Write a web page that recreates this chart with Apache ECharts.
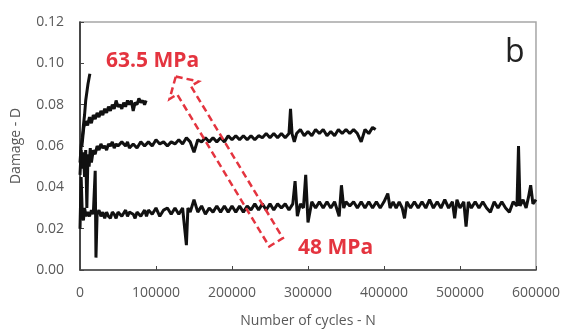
<!DOCTYPE html>
<html>
<head>
<meta charset="utf-8">
<script src="https://cdn.jsdelivr.net/npm/echarts@6/dist/echarts.min.js"></script>
<style>
html,body{margin:0;padding:0;background:#fff;}
#chart{width:563px;height:333px;}
</style>
</head>
<body>
<div id="chart"></div>
<script>
// ---- Data (Number of cycles N, Damage D) ----
const series635 = [[0,0.052],[1500,0.060],[3000,0.064],[4500,0.070],[6000,0.075],[7500,0.082],[9000,0.086],[10500,0.090],[12000,0.093],[13000,0.095]];

const seriesB = [[2500,0.060],[5000,0.069],[7500,0.072],[10000,0.070],[12500,0.074],[15000,0.071],[17500,0.075],[20000,0.073],[22500,0.076],[25000,0.074],[27500,0.077],[30000,0.075],[32500,0.078],[35000,0.076],[37500,0.079],[40000,0.077],[42500,0.080],[45000,0.078],[47500,0.082],[50000,0.079],[52500,0.080],[55000,0.078],[57500,0.081],[60000,0.079],[62500,0.082],[65000,0.080],[67500,0.082],[70000,0.077],[72500,0.081],[75000,0.080],[77500,0.083],[80000,0.081],[82500,0.082],[85000,0.080],[87000,0.082]];

const seriesC = [[0,0.046],[1500,0.058],[3000,0.049],[4500,0.057],[6000,0.045],[7500,0.058],[9000,0.030],[10500,0.056],[12000,0.050],[13500,0.059],[15000,0.052],[17500,0.058],[20000,0.056],[22500,0.060],[25000,0.058],[27500,0.061],[30000,0.059],[32500,0.060],[35000,0.058],[37500,0.061],[40000,0.060],[42500,0.062],[45000,0.059],[47500,0.061],[50000,0.060],[55000,0.062],[60000,0.060],[62500,0.062],[65000,0.059],[70000,0.061],[75000,0.059],[80000,0.062],[85000,0.060],[90000,0.062],[95000,0.060],[100000,0.063],[105000,0.061],[110000,0.062],[115000,0.060],[120000,0.062],[125000,0.061],[130000,0.063],[135000,0.061],[140000,0.064],[145000,0.062],[150000,0.057],[155000,0.063],[160000,0.062],[165000,0.064],[170000,0.062],[175000,0.064],[180000,0.062],[185000,0.064],[190000,0.062],[195000,0.065],[200000,0.063],[205000,0.065],[210000,0.063],[215000,0.065],[220000,0.063],[225000,0.065],[230000,0.063],[235000,0.065],[240000,0.064],[245000,0.066],[250000,0.064],[255000,0.066],[260000,0.064],[265000,0.066],[270000,0.064],[275000,0.066],[277000,0.078],[279000,0.066],[282000,0.062],[285000,0.066],[290000,0.068],[295000,0.065],[300000,0.067],[305000,0.065],[310000,0.068],[315000,0.066],[320000,0.068],[325000,0.065],[330000,0.067],[335000,0.065],[340000,0.068],[345000,0.066],[350000,0.068],[355000,0.066],[360000,0.068],[365000,0.066],[370000,0.062],[375000,0.068],[380000,0.066],[385000,0.069],[389000,0.068]];

const series48 = [[0,0.020],[1500,0.045],[3000,0.027],[4500,0.024],[6000,0.030],[8000,0.026],[10000,0.028],[12500,0.026],[15000,0.029],[17500,0.027],[20000,0.048],[21000,0.006],[22500,0.027],[25000,0.029],[27500,0.026],[30000,0.028],[32500,0.025],[35000,0.028],[37500,0.026],[40000,0.025],[42500,0.028],[45000,0.027],[47500,0.025],[50000,0.028],[55000,0.026],[60000,0.029],[62500,0.026],[65000,0.028],[70000,0.027],[72500,0.025],[75000,0.028],[80000,0.026],[85000,0.029],[87500,0.026],[90000,0.029],[95000,0.027],[100000,0.030],[105000,0.026],[110000,0.029],[115000,0.030],[120000,0.027],[125000,0.030],[130000,0.027],[135000,0.030],[140000,0.012],[142000,0.030],[145000,0.028],[150000,0.034],[155000,0.028],[160000,0.031],[165000,0.027],[170000,0.030],[175000,0.028],[180000,0.031],[185000,0.028],[190000,0.031],[195000,0.028],[200000,0.031],[205000,0.028],[210000,0.031],[215000,0.028],[220000,0.031],[225000,0.029],[230000,0.032],[235000,0.029],[240000,0.032],[245000,0.029],[250000,0.032],[255000,0.029],[260000,0.032],[265000,0.030],[270000,0.032],[275000,0.029],[280000,0.032],[283000,0.043],[286000,0.026],[290000,0.032],[294000,0.030],[297000,0.046],[300000,0.023],[305000,0.033],[310000,0.030],[315000,0.033],[320000,0.030],[325000,0.033],[330000,0.030],[335000,0.033],[341000,0.026],[344000,0.041],[347000,0.030],[350000,0.033],[355000,0.031],[360000,0.033],[365000,0.030],[370000,0.033],[375000,0.030],[380000,0.033],[385000,0.030],[390000,0.033],[395000,0.030],[400000,0.033],[405000,0.037],[408000,0.030],[412000,0.033],[416000,0.030],[420000,0.033],[424000,0.030],[427000,0.025],[430000,0.033],[435000,0.030],[440000,0.033],[445000,0.030],[450000,0.033],[455000,0.030],[460000,0.034],[465000,0.030],[470000,0.033],[475000,0.030],[480000,0.034],[485000,0.030],[490000,0.033],[493000,0.025],[496000,0.034],[500000,0.030],[505000,0.033],[508000,0.021],[511000,0.033],[515000,0.030],[520000,0.033],[525000,0.030],[530000,0.033],[535000,0.030],[540000,0.028],[545000,0.033],[550000,0.030],[555000,0.033],[560000,0.030],[565000,0.028],[570000,0.033],[575000,0.031],[577000,0.060],[579000,0.031],[583000,0.034],[587000,0.030],[590000,0.035],[593000,0.041],[596000,0.032],[600000,0.034]];

const xTickStep = 100000;
const yTickStep = 0.02;
const labelHigh = '63.5 MPa';
const labelLow = '48 MPa';
const panelLetter = 'b';
// arrow annotation (data coords): tip and tail centre
const arrowTip = [126000, 0.0936];
const arrowTail = [258000, 0.0134];

const RED = '#e4343f';
const FONT = 'Open Sans';

const chart = echarts.init(document.getElementById('chart'), null, {renderer: 'canvas'});

function lineSeries(d) {
  return {
    type: 'line', data: d, showSymbol: false, symbol: 'none',
    lineStyle: {color: '#111', width: 3}, itemStyle: {color: '#111'},
    animation: false, z: 3
  };
}

chart.setOption({
  animation: false,
  backgroundColor: '#fff',
  grid: {left: 80, right: 26, top: 22, bottom: 59, show: true, borderColor: '#a6a6a6', borderWidth: 1.5, containLabel: false},
  xAxis: {
    type: 'value', min: 0, max: 600000, interval: xTickStep,
    name: 'Number of cycles - N', nameLocation: 'middle', nameGap: 44,
    nameTextStyle: {fontFamily: FONT, fontSize: 14, color: '#595959'},
    axisLine: {show: true, lineStyle: {color: '#444', width: 1.5}},
    axisTick: {show: true, inside: true, length: 4, lineStyle: {color: '#444'}},
    axisLabel: {margin: 16, fontFamily: FONT, fontSize: 14, color: '#595959', formatter: v => String(v)},
    splitLine: {show: false}
  },
  yAxis: {
    type: 'value', min: 0, max: 0.12, interval: yTickStep,
    name: 'Damage - D', nameLocation: 'middle', nameGap: 57, nameRotate: 90,
    nameTextStyle: {fontFamily: FONT, fontSize: 14, color: '#595959'},
    axisLine: {show: true, lineStyle: {color: '#222', width: 1.5}},
    axisTick: {show: true, inside: true, length: 4, lineStyle: {color: '#444'}},
    axisLabel: {margin: 16, fontFamily: FONT, fontSize: 14, color: '#595959', formatter: v => v.toFixed(2)},
    splitLine: {show: false}
  },
  series: [lineSeries(series48), lineSeries(seriesC), lineSeries(seriesB), lineSeries(series635)]
});

// Build arrow from data-coordinate anchors
const tip = chart.convertToPixel({gridIndex: 0}, arrowTip);
const tail = chart.convertToPixel({gridIndex: 0}, arrowTail);
const dx = tip[0] - tail[0], dy = tip[1] - tail[1];
const L = Math.hypot(dx, dy);
const ux = dx / L, uy = dy / L;
const nx = -uy, ny = ux;
const headLen = 16, headHalf = 17, shaftHalf = 8;
const mx = tip[0] - headLen * ux, my = tip[1] - headLen * uy;
const pts = [
  [tip[0], tip[1]],
  [mx + headHalf * nx, my + headHalf * ny],
  [mx + shaftHalf * nx, my + shaftHalf * ny],
  [tail[0] + shaftHalf * nx, tail[1] + shaftHalf * ny],
  [tail[0] - shaftHalf * nx, tail[1] - shaftHalf * ny],
  [mx - shaftHalf * nx, my - shaftHalf * ny],
  [mx - headHalf * nx, my - headHalf * ny]
];

chart.setOption({
  graphic: [
    {type: 'polygon', shape: {points: pts}, z: 10,
     style: {fill: 'none', stroke: RED, lineWidth: 2.5, lineDash: [7, 4]}},
    {type: 'text', left: 106, top: 51, z: 10,
     style: {text: labelHigh, fill: RED, fontFamily: FONT, fontSize: 21, fontWeight: 'bold'}},
    {type: 'text', left: 298, top: 238, z: 10,
     style: {text: labelLow, fill: RED, fontFamily: FONT, fontSize: 21, fontWeight: 'bold'}},
    {type: 'text', left: 505, top: 37, z: 10,
     style: {text: panelLetter, fill: '#222', fontFamily: FONT, fontSize: 32}}
  ]
});
</script>
</body>
</html>
